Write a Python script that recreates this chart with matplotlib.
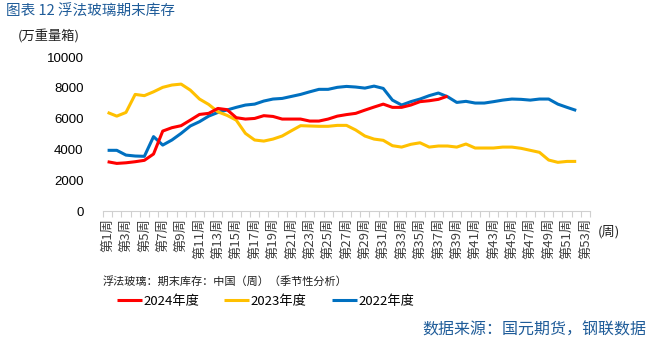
import numpy as np
import matplotlib
import matplotlib.pyplot as plt

matplotlib.use('Agg')
plt.rcParams['font.family'] = ['Noto Sans CJK SC', 'DejaVu Sans']

# weekly inventory, 10k weight cases
weeks = ["第{}周".format(i) for i in range(1, 54)]
y2024 = [3200, 3090, 3130, 3200, 3290, 3700, 5190, 5410, 5540, 5900,
         6270, 6340, 6660, 6580, 6060, 5970, 6010, 6190, 6140, 5970,
         5970, 5970, 5840, 5840, 5970, 6160, 6260, 6340, 6550, 6750,
         6940, 6730, 6730, 6880, 7100, 7160, 7250, 7460]
y2023 = [6400, 6160, 6400, 7570, 7490, 7740, 8030, 8180, 8240, 7850,
         7270, 6920, 6440, 6210, 5900, 5040, 4610, 4540, 4670, 4870,
         5210, 5540, 5520, 5500, 5500, 5560, 5560, 5260, 4870, 4670,
         4590, 4240, 4150, 4330, 4430, 4150, 4220, 4220, 4150, 4350,
         4090, 4090, 4090, 4150, 4150, 4070, 3940, 3810, 3310, 3160,
         3220, 3220]
y2022 = [3940, 3940, 3630, 3570, 3550, 4830, 4280, 4610, 5040, 5520,
         5800, 6160, 6400, 6560, 6730, 6880, 6940, 7140, 7270, 7310,
         7440, 7570, 7740, 7900, 7900, 8030, 8090, 8050, 7980, 8110,
         7960, 7200, 6880, 7100, 7270, 7490, 7660, 7420, 7050, 7120,
         7010, 7010, 7100, 7200, 7270, 7250, 7200, 7270, 7270, 6940,
         6730, 6530]
series = [("2024年度", y2024, "#FF0000"),
          ("2023年度", y2023, "#FFC000"),
          ("2022年度", y2022, "#0070C0")]

fig = plt.figure(figsize=(6.54, 3.42), dpi=100)
ax = fig.add_axes([103 / 654, 1 - 211 / 342, 487 / 654, 154 / 342])

for name, vals, col in series[::-1]:
    ax.plot(np.arange(len(vals)), vals, color=col, lw=2.2, label=name,
            solid_capstyle='butt', solid_joinstyle='round')

ax.set_xlim(-0.5, len(weeks) - 0.5)
ax.set_ylim(0, 10000)
ax.set_yticks(range(0, 10001, 2000))
ax.tick_params(axis='y', length=0, labelsize=9.5, pad=14)
for lab in ax.get_yticklabels():
    lab.set_family(['Liberation Sans', 'DejaVu Sans'])

ax.set_xticks(np.arange(0, len(weeks), 2))
ax.set_xticklabels(weeks[::2], rotation=90, fontsize=9.5, color='#404040')
ax.set_xticks(np.arange(-0.5, len(weeks), 1), minor=True)
ax.tick_params(axis='x', which='major', length=0, pad=5)
ax.tick_params(axis='x', which='minor', length=4, color='#D0D0D0', width=0.8)

for s in ['top', 'right', 'left']:
    ax.spines[s].set_visible(False)
ax.spines['bottom'].set_color('#D0D0D0')
ax.spines['bottom'].set_linewidth(0.8)

fig.text(6 / 654, 1 - 12 / 342, "图表 12 浮法玻璃期末库存", fontsize=10.5,
         color='#1F5C99', va='center', ha='left')
fig.text(18 / 654, 1 - 37 / 342, "(万重量箱)", fontsize=9.5, va='center',
         ha='left', color='#202020')
fig.text(598 / 654, 1 - 232 / 342, "(周)", fontsize=9.5, va='center',
         ha='left', color='#202020')
fig.text(103 / 654, 1 - 281 / 342, "浮法玻璃：期末库存：中国（周）（季节性分析）",
         fontsize=8, va='center', ha='left', color='#202020')

handles, labels = ax.get_legend_handles_labels()
fig.legend(handles[::-1], labels[::-1], loc='center left',
           bbox_to_anchor=(117 / 654, 1 - 301 / 342), ncol=3, frameon=False,
           fontsize=9.5, handlelength=1.9, handletextpad=0.1,
           columnspacing=1.9, borderaxespad=0, borderpad=0)

fig.text(646 / 654, 1 - 330 / 342, "数据来源：国元期货，钢联数据", fontsize=11.5,
         color='#1F5C99', va='center', ha='right')

fig.savefig("out.png", dpi=100)
